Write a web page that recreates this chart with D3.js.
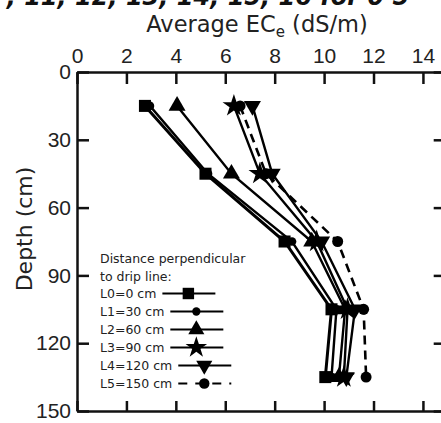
<!DOCTYPE html>
<html>
  <head>
    <meta charset="utf-8">
    <title>Average ECe by depth</title>
    <style>
      body { margin: 0; background: #fff; }
      svg { display: block; font-family: "DejaVu Sans", Verdana, sans-serif; }
      .axis path, .axis line { stroke: #111; stroke-width: 2.5px; }
      .axis text { font-size: 21px; fill: #222; }
      .series { fill: none; stroke: #000; }
      .legend text { font-size: 12.5px; fill: #222; }
    </style>
    <script src="https://d3js.org/d3.v7.min.js"></script>
  </head>
  <body>
    <svg id="myGraph" width="441" height="423"></svg>
    <script>
      // depths (cm) where samples were taken
      var depths = [15, 45, 75, 105, 135];

      // average ECe (dS/m) for each lateral distance
      var L0 = [2.75, 5.2, 8.4, 10.3, 10.05];
      var L1 = [2.95, 5.3, 8.7, 10.5, 10.3];
      var L2 = [4.05, 6.25, 9.5, 10.85, 10.6];
      var L3 = [6.35, 7.4, 9.7, 10.95, 10.8];
      var L4 = [7.1, 7.9, 9.9, 11.25, 10.9];
      var L5 = [6.6, 7.65, 10.55, 11.6, 11.7];

      var seriesNames = ["L0=0 cm", "L1=30 cm", "L2=60 cm", "L3=90 cm", "L4=120 cm", "L5=150 cm"];
      var xTicks = [0, 2, 4, 6, 8, 10, 12, 14];
      var yTicks = [0, 30, 60, 90, 120, 150];

      var series = [
        {name: seriesNames[0], values: L0, symbol: d3.symbolSquare, size: 145, width: 3, dash: null, rot: 0},
        {name: seriesNames[1], values: L1, symbol: d3.symbolCircle, size: 60, width: 2.4, dash: null, rot: 0},
        {name: seriesNames[2], values: L2, symbol: d3.symbolTriangle, size: 125, width: 2.4, dash: null, rot: 0},
        {name: seriesNames[3], values: L3, symbol: d3.symbolStar, size: 160, width: 2.4, dash: null, rot: 0},
        {name: seriesNames[4], values: L4, symbol: d3.symbolTriangle, size: 125, width: 2.4, dash: null, rot: 180},
        {name: seriesNames[5], values: L5, symbol: d3.symbolCircle, size: 95, width: 2.6, dash: "9,6", rot: 0}
      ];

      var svg = d3.select("#myGraph");

      var x = d3.scaleLinear().domain([0, 14.8]).range([77, 442.7]);
      var y = d3.scaleLinear().domain([0, 150]).range([72, 411]);

      // cropped caption at the very top of the figure
      svg.append("text")
         .attr("x", -10)
         .attr("y", 5)
         .attr("font-size", 24)
         .attr("font-weight", "bold")
         .attr("font-style", "italic")
         .attr("fill", "#111")
         .text("7, 11, 12, 13, 14, 15, 16 for 0 5");

      // axes
      svg.append("g").attr("class", "axis")
         .attr("transform", "translate(0," + y(0) + ")")
         .call(d3.axisTop(x).tickValues(xTicks).tickSize(-12).tickSizeOuter(0).tickPadding(9));

      svg.append("g").attr("class", "axis")
         .attr("transform", "translate(0," + y(150) + ")")
         .call(d3.axisBottom(x).tickValues(xTicks).tickSize(-10).tickSizeOuter(0).tickFormat(""));

      svg.append("g").attr("class", "axis")
         .attr("transform", "translate(" + x(0) + ",0)")
         .call(d3.axisLeft(y).tickValues(yTicks).tickSize(-12).tickSizeOuter(0).tickPadding(6));

      svg.append("g").attr("class", "axis")
         .attr("transform", "translate(" + x(14.8) + ",0)")
         .call(d3.axisRight(y).tickValues(yTicks).tickSize(-9).tickSizeOuter(0).tickFormat(""));

      // axis titles
      var title = svg.append("text")
         .attr("x", 257)
         .attr("y", 32)
         .attr("text-anchor", "middle")
         .attr("font-size", 22.5)
         .attr("fill", "#222");
      title.append("tspan").text("Average EC");
      title.append("tspan").attr("font-size", 15).attr("dy", 5).text("e");
      title.append("tspan").attr("dy", -5).text(" (dS/m)");

      svg.append("text")
         .attr("transform", "translate(32,229) rotate(-90)")
         .attr("text-anchor", "middle")
         .attr("font-size", 22)
         .attr("fill", "#222")
         .text("Depth (cm)");

      // lines and markers
      var line = d3.line()
                   .x(function(d) { return x(d.v); })
                   .y(function(d) { return y(d.depth); });

      series.slice().reverse().forEach(function(s) {
        var pts = s.values.map(function(v, i) { return {v: v, depth: depths[i]}; });
        svg.append("path")
           .attr("class", "series")
           .attr("d", line(pts))
           .attr("stroke-width", s.width)
           .attr("stroke-dasharray", s.dash);
        svg.selectAll(null)
           .data(pts)
           .enter()
           .append("path")
           .attr("d", d3.symbol().type(s.symbol).size(s.size))
           .attr("transform", function(d) {
             return "translate(" + x(d.v) + "," + y(d.depth) + ") rotate(" + s.rot + ")";
           })
           .attr("fill", "#000");
      });

      // legend
      var legend = svg.append("g").attr("class", "legend");
      legend.append("text").attr("x", 100).attr("y", 263).text("Distance perpendicular");
      legend.append("text").attr("x", 100).attr("y", 281).text("to drip line:");

      series.forEach(function(s, i) {
        var ly = 298 + i * 18;
        var t = legend.append("text").attr("x", 100).attr("y", ly).text(s.name);
        var x0 = 100 + t.node().getComputedTextLength() + 6;
        var cy = ly - 4.5;
        legend.append("line")
              .attr("x1", x0).attr("x2", x0 + 53)
              .attr("y1", cy).attr("y2", cy)
              .attr("stroke", "#000")
              .attr("stroke-width", 2.2)
              .attr("stroke-dasharray", s.dash ? "9,8" : null);
        legend.append("path")
              .attr("d", d3.symbol().type(s.symbol).size(s.size * 0.9))
              .attr("transform", "translate(" + (x0 + 26) + "," + cy + ") rotate(" + s.rot + ")")
              .attr("fill", "#000");
      });
    </script>
  </body>
</html>
